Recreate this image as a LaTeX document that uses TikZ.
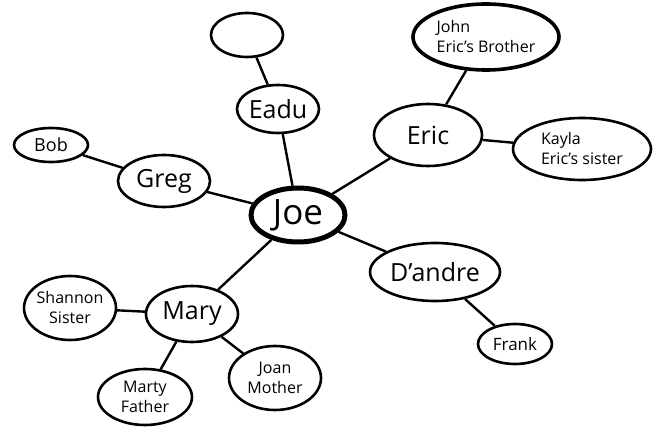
\documentclass[tikz,border=0pt]{standalone}
\usepackage{fontspec}
\setmainfont{Open Sans}
\usetikzlibrary{shapes.geometric, positioning}

\begin{document}
\begin{tikzpicture}[
      x=1pt, y=-1pt,
      % Node styles
      person/.style={
          ellipse, draw, line width=2.6pt, inner sep=-10pt,
          font=\fontsize{25}{28}\selectfont,
        },
      relative/.style={
          person, font=\fontsize{16}{20}\selectfont,
        },
      centre/.style={
          person, line width=5pt, font=\fontsize{35}{38}\selectfont,
        },
      % Edge style
      link/.style={draw, line width=2.4pt},
    ]
    \useasboundingbox (0,0) rectangle (654,427);

    % --- centre and first ring ---
    \node[centre, minimum width=94, minimum height=54] (joe) at (298,215) {Joe};
    \node[person, minimum width=82, minimum height=48] (eadu) at (278,109) {Eadu};
    \node[person, minimum width=92, minimum height=52] (greg) at (164,181) {Greg};
    \node[person, minimum width=108, minimum height=62] (eric) at (428,135) {Eric};
    \node[person, minimum width=130, minimum height=58] (dandre) at (435,272) {D'andre};
    \node[person, minimum width=92, minimum height=56] (mary) at (192,314) {Mary};

    % --- outer ring ---
    \node[relative, minimum width=72, minimum height=44] (blank) at (247,35) {};
    \node[relative, font=\fontsize{18}{22}\selectfont, minimum width=74, minimum height=34] (bob) at (51,145) {Bob};
    \node[relative, line width=3.6pt, align=left, minimum width=146, minimum height=66] (john) at (486,37) {John\\Eric's Brother};
    \node[relative, align=left, minimum width=138, minimum height=62] (kayla) at (582,149) {Kayla\\Eric's sister};
    \node[relative, font=\fontsize{17}{22}\selectfont, minimum width=74, minimum height=40] (frank) at (515,344) {Frank};
    \node[relative, align=center, minimum width=92, minimum height=64] (shannon) at (70,308) {Shannon\\Sister};
    \node[relative, align=center, minimum width=94, minimum height=56] (marty) at (145,397) {Marty\\Father};
    \node[relative, align=center, minimum width=92, minimum height=64] (joan) at (275,378) {Joan\\Mother};

    % --- links ---
    \foreach \a/\b in {joe/eadu, eadu/blank, joe/greg, greg/bob, joe/eric, eric/john,
                       eric/kayla, joe/dandre, dandre/frank, joe/mary, mary/shannon,
                       mary/marty, mary/joan} {
        \path[link] (\a) -- (\b);
      }
  \end{tikzpicture}
\end{document}
